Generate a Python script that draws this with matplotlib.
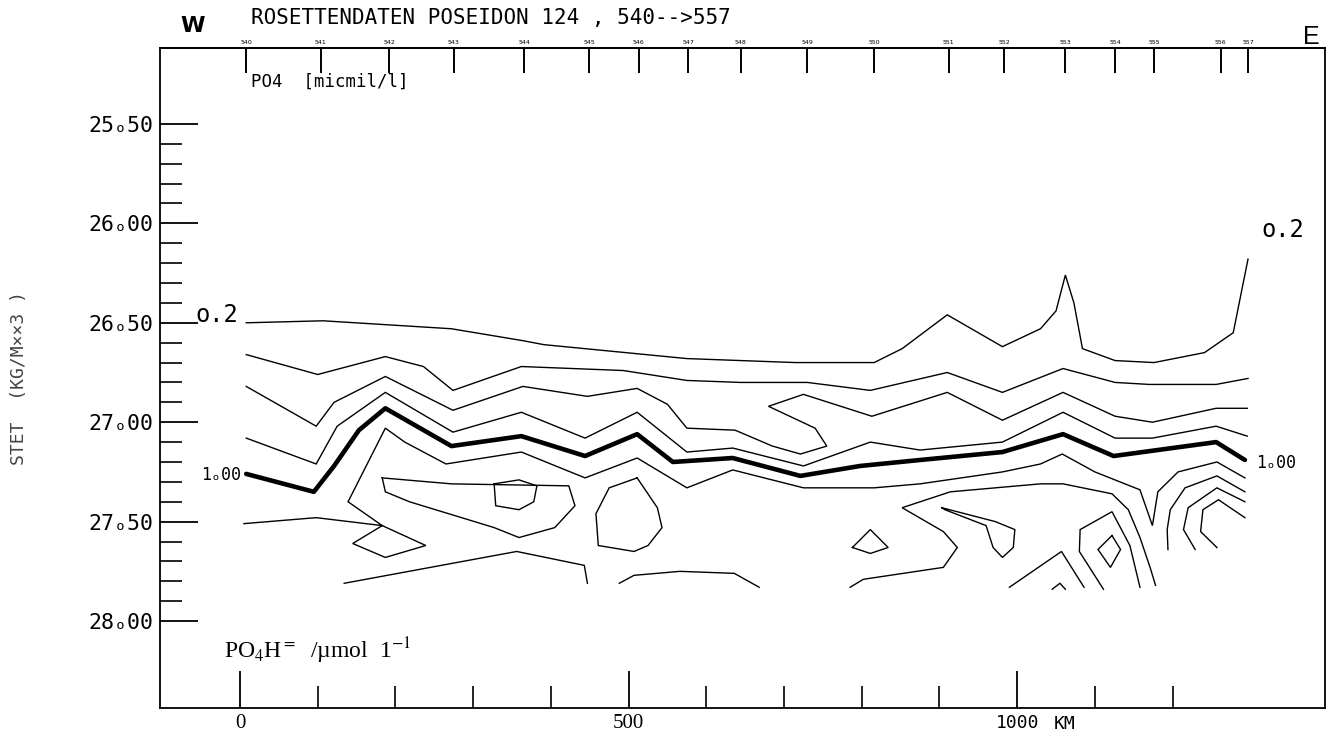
import matplotlib
matplotlib.use("Agg")
import matplotlib.pyplot as plt

# ---------------- data ----------------
station_ids = ["540", "541", "542", "543", "544", "545", "546", "547", "548",
               "549", "550", "551", "552", "553", "554", "555", "556", "557"]
station_km = [8, 104, 192, 275, 366, 449, 513, 577, 644,
              730, 816, 912, 983, 1062, 1126, 1176, 1262, 1297]

y_major = [25.5, 26.0, 26.5, 27.0, 27.5, 28.0]
y_major_labels = ["25ₒ50", "26ₒ00", "26ₒ50", "27ₒ00", "27ₒ50", "28ₒ00"]
y_minor = [25.6, 25.7, 25.8, 25.9, 26.1, 26.2, 26.3, 26.4, 26.6, 26.7, 26.8, 26.9,
           27.1, 27.2, 27.3, 27.4, 27.6, 27.7, 27.8, 27.9]
x_major = [0, 500, 1000]
x_major_labels = ["0", "500", "1000"]
x_minor = [100, 200, 300, 400, 600, 700, 800, 900, 1100, 1200]

# isolines (distance km, sigma-t)
iso02_km = [8, 107, 272, 364, 391, 575, 714, 816, 852, 910, 981, 1030, 1050, 1062,
            1073, 1084, 1126, 1176, 1241, 1278, 1297]
iso02_st = [26.50, 26.49, 26.53, 26.59, 26.61, 26.68, 26.70, 26.70, 26.63, 26.46, 26.62,
            26.53, 26.44, 26.26, 26.40, 26.63, 26.69, 26.70, 26.65, 26.55, 26.18]

iso04_km = [8, 100, 187, 236, 274, 362, 493, 575, 644, 730, 811, 910, 981, 1059, 1126,
            1170, 1256, 1297]
iso04_st = [26.66, 26.76, 26.67, 26.72, 26.84, 26.72, 26.74, 26.79, 26.80, 26.80, 26.84,
            26.75, 26.85, 26.73, 26.80, 26.81, 26.81, 26.78]

iso06_km = [8, 98, 121, 187, 274, 364, 447, 511, 550, 575, 637, 685, 721, 755, 740, 680,
            725, 813, 910, 981, 1059, 1126, 1174, 1256, 1296]
iso06_st = [26.82, 27.02, 26.90, 26.77, 26.94, 26.82, 26.87, 26.83, 26.91, 27.03, 27.04,
            27.12, 27.16, 27.12, 27.03, 26.92, 26.86, 26.97, 26.85, 26.99, 26.85, 26.97,
            27.00, 26.93, 26.93]

iso08_km = [8, 98, 125, 187, 274, 362, 444, 511, 575, 634, 725, 811, 875, 981, 1059,
            1126, 1174, 1256, 1296]
iso08_st = [27.08, 27.21, 27.02, 26.85, 27.05, 26.95, 27.08, 26.95, 27.15, 27.13, 27.22,
            27.10, 27.14, 27.10, 26.95, 27.08, 27.08, 27.02, 27.07]

iso10_km = [8, 95, 121, 153, 187, 272, 362, 444, 511, 557, 634, 721, 798, 875, 981,
            1059, 1124, 1256, 1293]
iso10_st = [27.26, 27.35, 27.22, 27.04, 26.93, 27.12, 27.07, 27.17, 27.06, 27.20, 27.18,
            27.27, 27.22, 27.19, 27.15, 27.06, 27.17, 27.10, 27.19]

iso12_km = [1293, 1257, 1207, 1181, 1174, 1158, 1100, 1058, 1030, 981, 875, 816, 725, 634,
            575, 511, 444, 362, 265, 212, 187, 139, 183, 239, 187, 145, 183, 98, 5]
iso12_st = [27.28, 27.20, 27.25, 27.35, 27.52, 27.34, 27.25, 27.16, 27.21, 27.25, 27.31,
            27.33, 27.33, 27.24, 27.33, 27.18, 27.28, 27.15, 27.21, 27.10, 27.03, 27.40,
            27.52, 27.62, 27.68, 27.61, 27.52, 27.48, 27.51]

fish_km = [183, 272, 423, 431, 405, 359, 327, 218, 187, 183]
fish_st = [27.28, 27.31, 27.32, 27.42, 27.53, 27.58, 27.53, 27.40, 27.35, 27.28]

pent_km = [327, 359, 382, 378, 359, 329, 327]
pent_st = [27.31, 27.29, 27.32, 27.40, 27.44, 27.42, 27.31]

oval_km = [511, 475, 458, 461, 507, 525, 543, 537, 511]
oval_st = [27.28, 27.33, 27.46, 27.62, 27.65, 27.62, 27.53, 27.43, 27.28]

lowA_km = [134, 356, 443, 447]
lowA_st = [27.81, 27.65, 27.72, 27.81]

lowB_km = [488, 507, 566, 636, 668]
lowB_st = [27.81, 27.77, 27.75, 27.76, 27.83]

tri_km = [788, 811, 834, 811, 788]
tri_st = [27.63, 27.54, 27.63, 27.66, 27.63]

tongue_km = [903, 972, 997, 995, 981, 969, 960, 907, 903]
tongue_st = [27.43, 27.50, 27.54, 27.63, 27.68, 27.63, 27.52, 27.44, 27.43]

isoF_km = [785, 802, 905, 923, 905, 852, 914, 1030, 1059, 1122, 1143, 1158, 1171, 1178]
isoF_st = [27.83, 27.79, 27.73, 27.63, 27.55, 27.43, 27.35, 27.31, 27.31, 27.36, 27.44,
           27.58, 27.73, 27.82]

hill_km = [1111, 1080, 1081, 1122, 1145, 1158]
hill_st = [27.84, 27.65, 27.54, 27.45, 27.62, 27.83]

dia_km = [1122, 1133, 1120, 1104, 1122]
dia_st = [27.57, 27.64, 27.73, 27.64, 27.57]

lowC_km = [990, 1057, 1086]
lowC_st = [27.83, 27.65, 27.83]

tip_km = [1045, 1055, 1062]
tip_st = [27.84, 27.81, 27.84]

arc1_km = [1194, 1193, 1197, 1216, 1257, 1293]
arc1_st = [27.64, 27.54, 27.44, 27.33, 27.27, 27.35]
arc2_km = [1229, 1214, 1220, 1257, 1293]
arc2_st = [27.64, 27.54, 27.43, 27.33, 27.40]
arc3_km = [1257, 1236, 1239, 1259, 1293]
arc3_st = [27.63, 27.55, 27.44, 27.39, 27.48]

thin_lines = [(iso02_km, iso02_st), (iso04_km, iso04_st), (iso06_km, iso06_st),
              (iso08_km, iso08_st), (iso12_km, iso12_st), (fish_km, fish_st),
              (pent_km, pent_st), (oval_km, oval_st), (lowA_km, lowA_st),
              (lowB_km, lowB_st), (tri_km, tri_st), (tongue_km, tongue_st),
              (isoF_km, isoF_st), (hill_km, hill_st), (dia_km, dia_st),
              (lowC_km, lowC_st), (tip_km, tip_st), (arc1_km, arc1_st),
              (arc2_km, arc2_st), (arc3_km, arc3_st)]

# ---------------- figure ----------------
MONO = "DejaVu Sans Mono"
fig = plt.figure(figsize=(13.32, 7.38), dpi=100)
ax = fig.add_axes([0.1201, 0.0407, 0.8746, 0.8943])
ax.set_xlim(-103, 1396)
ax.set_ylim(28.437, 25.118)

for xs, ys in thin_lines:
    ax.plot(xs, ys, color="black", lw=1.0, solid_joinstyle="miter")
ax.plot(iso10_km, iso10_st, color="black", lw=3.3, solid_capstyle="round")

for sp in ax.spines.values():
    sp.set_linewidth(1.3)

# y axis
ax.set_yticks(y_major, labels=y_major_labels)
ax.set_yticks(y_minor, minor=True)
ax.tick_params(axis="y", which="major", direction="in", length=27, width=1.3, pad=5,
               labelsize=15.5)
ax.tick_params(axis="y", which="minor", direction="in", length=16, width=1.2)
for lbl in ax.get_yticklabels():
    lbl.set_fontfamily(MONO)

# x axis
ax.set_xticks(x_major, labels=x_major_labels)
ax.set_xticks(x_minor, minor=True)
ax.tick_params(axis="x", which="major", direction="in", length=27, width=1.3, pad=4)
ax.tick_params(axis="x", which="minor", direction="in", length=16, width=1.2)
xl = ax.get_xticklabels()
for lbl in xl[:2]:
    lbl.set_fontfamily("Liberation Serif")
    lbl.set_fontsize(15)
xl[2].set_fontfamily(MONO)
xl[2].set_fontsize(13)
fig.text(1054 / 1332, 1 - 724 / 738, "KM", fontsize=13, family=MONO,
         ha="left", va="center")

# stations on top
sec = ax.secondary_xaxis("top")
sec.set_xticks(station_km, labels=station_ids)
sec.tick_params(direction="in", length=18, width=1.4, labelsize=4.5, pad=2)
sec.spines["top"].set_linewidth(1.3)

# contour labels
ax.text(-3, 26.496, "o.2", ha="right", va="baseline", fontsize=17, family=MONO)
ax.text(1314, 26.07, "o.2", ha="left", va="baseline", fontsize=17, family=MONO)
ax.text(1, 27.29, "1ₒ00", ha="right", va="baseline", fontsize=12, family=MONO)
ax.text(1308, 27.23, "1ₒ00", ha="left", va="baseline", fontsize=12, family=MONO)

# unit label
ax.text(-21, 28.186, r"PO$_4$H$^{=}$  /µmol  1$^{-1}$", ha="left", va="baseline",
        fontsize=17, family="Liberation Serif", math_fontfamily="stix")

# header texts
fig.text(193 / 1332, 1 - 26 / 738, "W", fontsize=16, fontweight="bold",
         ha="center", va="center", family="DejaVu Sans")
fig.text(1311 / 1332, 1 - 37 / 738, "E", fontsize=18, ha="center", va="center",
         family="Liberation Sans")
fig.text(251 / 1332, 1 - 18 / 738, "ROSETTENDATEN POSEIDON 124 , 540-->557",
         fontsize=15, family=MONO, ha="left", va="center")
fig.text(251 / 1332, 1 - 82 / 738, "PO4  [micmil/l]", fontsize=12.5, family=MONO,
         ha="left", va="center")
fig.text(19 / 1332, 1 - 378 / 738, "STET  (KG/M××3 )", rotation=90, fontsize=13,
         family=MONO, color="#444444", ha="center", va="center")

fig.savefig("out.png", dpi=100)
